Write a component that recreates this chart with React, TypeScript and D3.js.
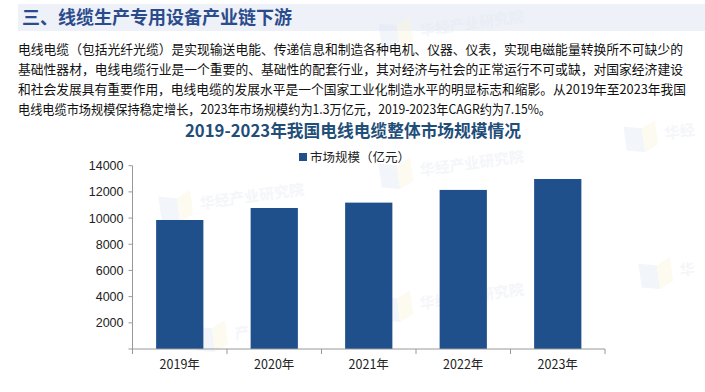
import React from "react";
import * as d3 from "d3";

const years = ["2019年", "2020年", "2021年", "2022年", "2023年"];
const marketSize = [9852, 10770, 11180, 12150, 12985];
const yTicks = [0, 2000, 4000, 6000, 8000, 10000, 12000, 14000];

const bodyLines = [
  "电线电缆（包括光纤光缆）是实现输送电能、传递信息和制造各种电机、仪器、仪表，实现电磁能量转换所不可缺少的",
  "基础性器材，电线电缆行业是一个重要的、基础性的配套行业，其对经济与社会的正常运行不可或缺，对国家经济建设",
  "和社会发展具有重要作用，电线电缆的发展水平是一个国家工业化制造水平的明显标志和缩影。从2019年至2023年我国",
  "电线电缆市场规模保持稳定增长，2023年市场规模约为1.3万亿元，2019-2023年CAGR约为7.15%。",
];
const bodyWidths = [665, 665, 668, 533];

// faint watermark spots
const marks = [
  { x: 420, y: 32, t: "华经产业研究院" },
  { x: 420, y: 172, t: "华经产业研究院" },
  { x: 200, y: 205, t: "华经产业研究院" },
  { x: 235, y: 335, t: "产业研" },
  { x: 420, y: 305, t: "华经产业研究院" },
  { x: 665, y: 135, t: "华经" },
  { x: 680, y: 272, t: "华" },
];

const W = 705;
const H = 392;
const margin = { top: 165.7, left: 132.5, right: 100, bottom: 43 };
const barColor = "#20508c";
const cjk = "'Noto Sans CJK SC', 'Noto Sans', sans-serif";
const latin = "'Liberation Sans', Arial, sans-serif";

export default function App() {
  const x = d3
    .scaleBand<string>()
    .domain(years)
    .range([margin.left, W - margin.right])
    .paddingInner(0.5)
    .paddingOuter(0.25);
  const y = d3
    .scaleLinear()
    .domain([0, 14000])
    .range([H - margin.bottom, margin.top]);
  const y0 = y(0);
  const step = x.step();
  const bandStarts = years.map((d) => (x(d) as number) - x.bandwidth() / 2);

  return (
    <svg
      width={W}
      height={H}
      style={{ position: "absolute", left: 0, top: 0, background: "#fff" }}
    >
      {/* header band */}
      <rect x={18} y={4} width={W - 18} height={27} fill="#eef1f8" />

      {/* watermarks */}
      {marks.map((m, i) => (
        <g key={i} transform={`translate(${m.x},${m.y}) rotate(-8)`} opacity={0.4}>
          <path d="M-40,-14 L-22,-10 L-22,14 L-40,10 Z" fill="#dfe7f4" />
          <path d="M-22,-10 L-8,-16 L-8,8 L-22,14 Z" fill="#fbf4da" />
          <text x={0} y={4} fontFamily={cjk} fontSize={15} fontWeight="bold" fill="#e4e9f1">
            {m.t}
          </text>
        </g>
      ))}

      <text
        x={22}
        y={24}
        fontFamily={cjk}
        fontSize={18}
        fontWeight="bold"
        fill="#2b4c8c"
      >
        三、线缆生产专用设备产业链下游
      </text>

      {/* body text */}
      {bodyLines.map((line, i) => (
        <text
          key={i}
          x={18}
          y={54 + i * 20}
          fontFamily={cjk}
          fontSize={13}
          fill="#111"
          textLength={bodyWidths[i]}
          lengthAdjust="spacingAndGlyphs"
        >
          {line}
        </text>
      ))}

      {/* chart title */}
      <text
        x={185}
        y={137}
        fontFamily={cjk}
        fontSize={17}
        fontWeight="bold"
        fill="#1f4e79"
        textLength={336}
        lengthAdjust="spacingAndGlyphs"
      >
        2019-2023年我国电线电缆整体市场规模情况
      </text>

      {/* legend */}
      <rect x={299} y={153} width={8} height={8} fill={barColor} />
      <text x={310} y={162} fontFamily={cjk} fontSize={12.5} fill="#222">
        市场规模（亿元）
      </text>

      {/* bars */}
      {years.map((d, i) => (
        <rect
          key={d}
          x={x(d)}
          y={y(marketSize[i])}
          width={x.bandwidth()}
          height={y0 - y(marketSize[i])}
          fill={barColor}
        />
      ))}

      {/* y axis */}
      <line x1={margin.left} x2={margin.left} y1={y(14000)} y2={y0} stroke="#999" />
      {yTicks.map((t) => (
        <g key={t}>
          <line
            x1={margin.left - 4}
            x2={margin.left}
            y1={y(t)}
            y2={y(t)}
            stroke="#999"
          />
          {t > 0 && (
            <text
              x={margin.left - 9}
              y={y(t) + 4.5}
              textAnchor="end"
              fontFamily={latin}
              fontSize={12.5}
              fill="#222"
            >
              {t}
            </text>
          )}
        </g>
      ))}

      {/* x axis */}
      <line x1={margin.left} x2={W - margin.right} y1={y0} y2={y0} stroke="#999" />
      {[...bandStarts, bandStarts[bandStarts.length - 1] + step].map((bx, i) => (
        <line key={i} x1={bx} x2={bx} y1={y0} y2={y0 + 5} stroke="#999" />
      ))}
      {years.map((d) => (
        <text
          key={d}
          x={(x(d) as number) + x.bandwidth() / 2}
          y={y0 + 20}
          textAnchor="middle"
          fontFamily={cjk}
          fontSize={12.5}
          fill="#222"
        >
          {d}
        </text>
      ))}
    </svg>
  );
}
